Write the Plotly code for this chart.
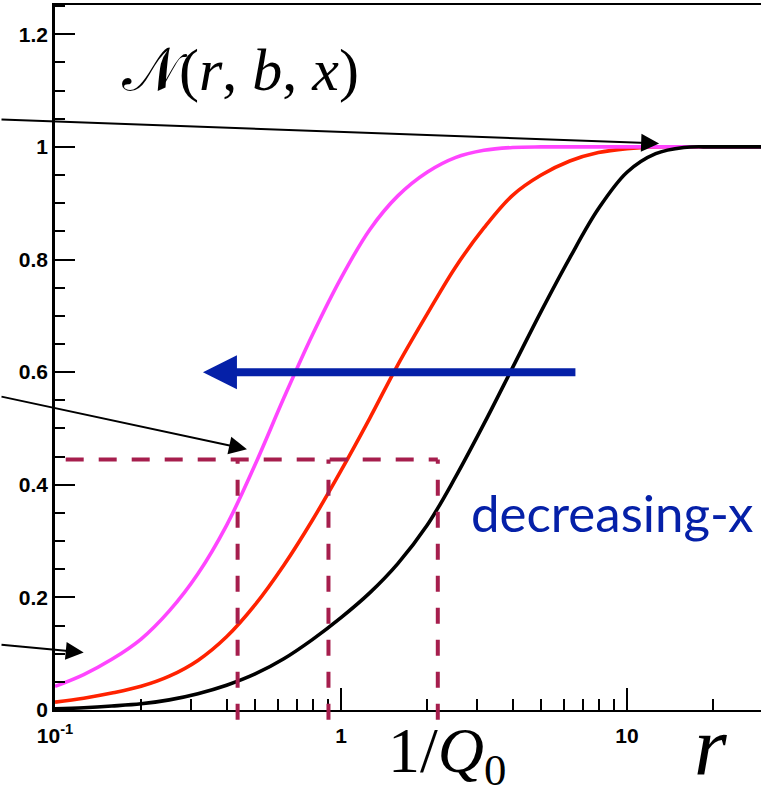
import math
import plotly.graph_objects as go

# ---- data ----
r_grid = [0.1, 0.126, 0.158, 0.2, 0.251, 0.316, 0.398, 0.501, 0.631, 0.794, 1.0, 1.26, 1.58,
          2.0, 2.51, 3.16, 3.98, 5.01, 6.31, 7.94, 10.0, 12.6, 15.8, 20.0, 30.0]

r_magenta = r_grid
N_magenta = [0.042, 0.063, 0.090, 0.126, 0.176, 0.242, 0.328, 0.436, 0.554, 0.666, 0.767, 0.853, 0.913,
             0.955, 0.981, 0.994, 0.999, 1.0, 1.0, 1.0, 1.0, 1.0, 1.0, 1.0, 1.0]

r_red = r_grid
N_red = [0.014, 0.021, 0.030, 0.042, 0.060, 0.088, 0.130, 0.187, 0.257, 0.337, 0.425, 0.518, 0.613,
         0.703, 0.786, 0.856, 0.914, 0.950, 0.975, 0.990, 0.997, 1.0, 1.0, 1.0, 1.0]

r_black = r_grid
N_black = [0.002, 0.004, 0.007, 0.011, 0.018, 0.029, 0.044, 0.064, 0.091, 0.125, 0.164, 0.208, 0.260,
           0.328, 0.413, 0.508, 0.608, 0.708, 0.803, 0.890, 0.955, 0.988, 0.999, 1.0, 1.0]

inv_Q0 = [0.435, 0.904, 2.18]       # 1/Q0 markers
N_level = 0.445                      # saturation-scale level
r_level_start = 0.109

x_tickvals = [0.1, 1, 10]
x_ticktext = ["10<sup>-1</sup>", "1", "10"]
x_minor = [0.2, 0.3, 0.4, 0.5, 0.6, 0.7, 0.8, 0.9, 2, 3, 4, 5, 6, 7, 8, 9, 20, 30]
y_tickvals = [0, 0.2, 0.4, 0.6, 0.8, 1.0, 1.2]
y_ticktext = ["0", "0.2", "0.4", "0.6", "0.8", "1", "1.2"]

X_RANGE = [-1, 1.4685]
Y_RANGE = [0, 1.252]

MAGENTA = "#FF45FF"
RED = "#FF2200"
BLACK = "#000000"
MAROON = "#A61E4D"
BLUE = "#0520A8"

fig = go.Figure()
for rr, nn, col in [(r_red, N_red, RED), (r_magenta, N_magenta, MAGENTA), (r_black, N_black, BLACK)]:
    fig.add_trace(go.Scatter(x=rr, y=nn, mode="lines",
                             line=dict(color=col, width=3.6, shape="spline", smoothing=1.0),
                             showlegend=False, hoverinfo="skip"))

shapes = []
shapes.append(dict(type="line", xref="x", yref="y", x0=r_level_start, x1=inv_Q0[-1], y0=N_level, y1=N_level,
                   line=dict(color=MAROON, width=4, dash="18px,15px"), layer="above"))
for rv in inv_Q0:
    shapes.append(dict(type="line", xref="x", yref="paper", x0=rv, x1=rv,
                       y0=-0.014, y1=N_level / Y_RANGE[1],
                       line=dict(color=MAROON, width=4, dash="16px,16px"), layer="above"))


def lg(v):
    return math.log10(v)


annotations = [
    # black arrows
    dict(x=lg(12.95), y=1.006, xref="x", yref="y", ax=-660, ay=-24, text="", showarrow=True,
         arrowhead=2, arrowsize=1.8, arrowwidth=2, arrowcolor=BLACK),
    dict(x=lg(0.469), y=0.463, xref="x", yref="y", ax=-248, ay=-53, text="", showarrow=True,
         arrowhead=2, arrowsize=1.8, arrowwidth=2, arrowcolor=BLACK),
    dict(x=lg(0.126), y=0.102, xref="x", yref="y", ax=-85, ay=-8, text="", showarrow=True,
         arrowhead=2, arrowsize=1.8, arrowwidth=2, arrowcolor=BLACK),
    # blue arrow
    dict(x=lg(0.329), y=0.6, xref="x", yref="y", ax=374, ay=0, text="", showarrow=True,
         arrowhead=2, arrowsize=0.85, arrowwidth=8, arrowcolor=BLUE),
    # texts
    dict(x=(240 - 55) / 706, y=(710 - 70) / 705, xref="paper", yref="paper", showarrow=False,
         text="𝒩(<i>r</i>, <i>b</i>, <i>x</i>)",
         font=dict(family="Liberation Serif", size=60, color=BLACK), xanchor="center", yanchor="middle"),
    dict(x=(612 - 55) / 706, y=(710 - 512) / 705, xref="paper", yref="paper", showarrow=False,
         text="decreasing-x", font=dict(family="Lato", size=51, color=BLUE), xanchor="center", yanchor="middle"),
    dict(x=(447 - 55) / 706, y=(710 - 755) / 705, xref="paper", yref="paper", showarrow=False,
         text="1/<i>Q</i><sub>0</sub>", font=dict(family="Liberation Serif", size=64, color=BLACK),
         xanchor="center", yanchor="middle"),
    dict(x=(710 - 55) / 706, y=(710 - 746) / 705, xref="paper", yref="paper", showarrow=False,
         text="<i>r</i>", font=dict(family="Liberation Serif", size=84, color=BLACK),
         xanchor="center", yanchor="middle"),
]

tickfont = dict(family="Liberation Sans", size=21, color=BLACK, weight="bold")

fig.update_layout(
    width=761, height=788,
    margin=dict(l=55, r=0, t=5, b=78),
    paper_bgcolor="white", plot_bgcolor="white",
    shapes=shapes, annotations=annotations,
    xaxis=dict(type="log", range=X_RANGE, showgrid=False, zeroline=False,
               showline=True, linecolor=BLACK, linewidth=2, mirror=True,
               ticks="inside", ticklen=22, tickwidth=1.5, tickcolor=BLACK,
               tickvals=x_tickvals, ticktext=x_ticktext, tickfont=tickfont, ticklabelstandoff=6,
               minor=dict(tickvals=x_minor, ticks="inside", ticklen=11, tickwidth=1.5, tickcolor=BLACK, showgrid=False)),
    yaxis=dict(range=Y_RANGE, showgrid=False, zeroline=False,
               showline=True, linecolor=BLACK, linewidth=2.5,
               ticks="inside", ticklen=20, tickwidth=2, tickcolor=BLACK,
               tickvals=y_tickvals, ticktext=y_ticktext, tickfont=tickfont,
               minor=dict(dtick=0.05, tick0=0, ticks="inside", ticklen=10, tickwidth=2, tickcolor=BLACK, showgrid=False)),
)

fig.write_html("out.html", config={"displayModeBar": False},
               post_script="document.body.style.margin='0px';")
